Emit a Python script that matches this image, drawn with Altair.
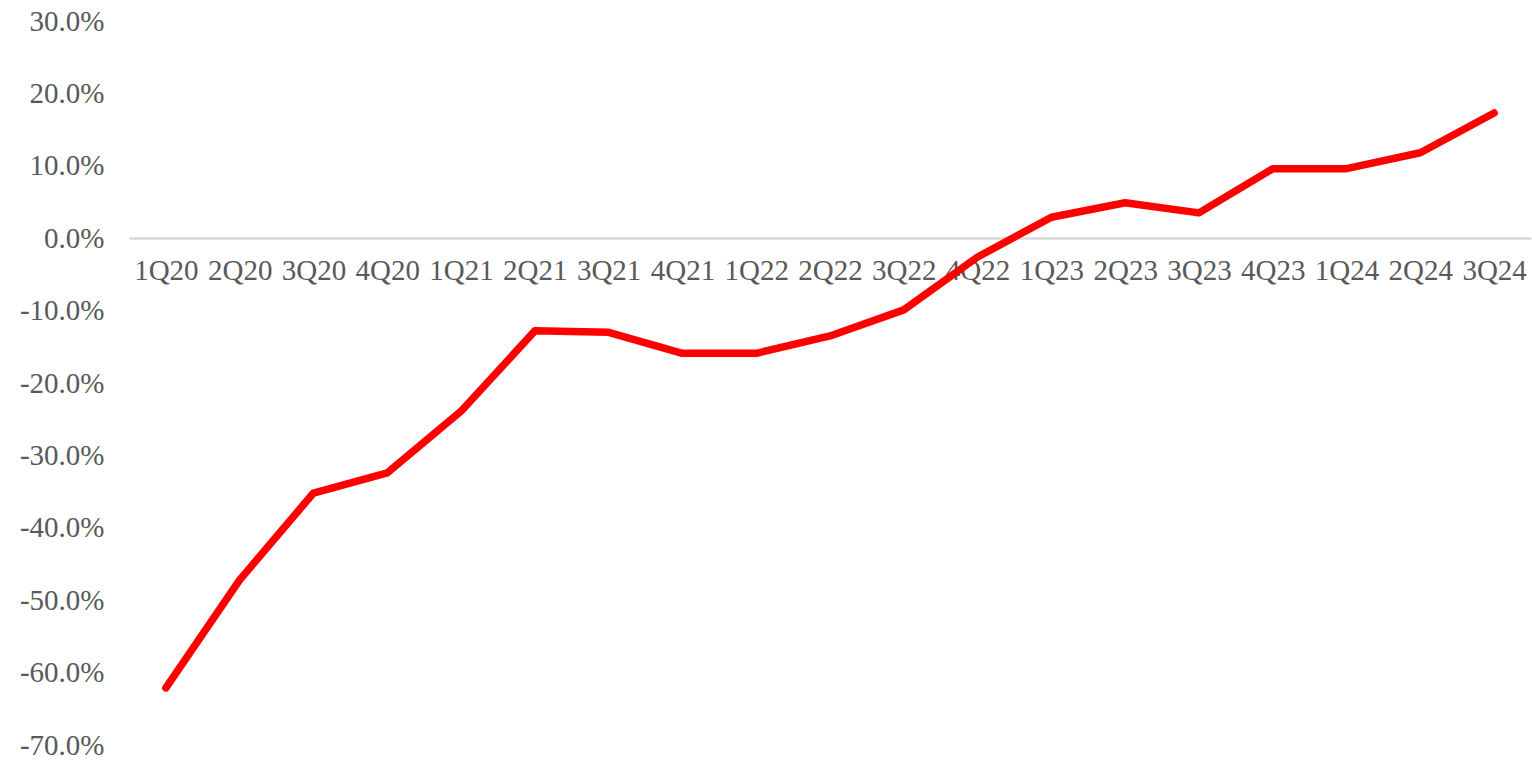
import altair as alt
import pandas as pd

quarters = ["1Q20", "2Q20", "3Q20", "4Q20", "1Q21", "2Q21", "3Q21", "4Q21",
            "1Q22", "2Q22", "3Q22", "4Q22", "1Q23", "2Q23", "3Q23", "4Q23",
            "1Q24", "2Q24", "3Q24"]
values = [-62.1, -47.2, -35.2, -32.4, -23.9, -12.8, -13.0, -15.9,
          -15.9, -13.5, -9.9, -2.6, 2.9, 4.9, 3.5, 9.6,
          9.6, 11.8, 17.3]
y_ticks = [30, 20, 10, 0, -10, -20, -30, -40, -50, -60, -70]

df = pd.DataFrame({"q": quarters, "v": [v / 100 for v in values]})

W, H = 1402, 724
FONT = "Liberation Serif"
TXT = "#595959"
FS = 29

line = alt.Chart(df).mark_line(
    color="#ff0000", strokeWidth=7.5, strokeCap="round", strokeJoin="round"
).encode(
    x=alt.X("q:N", sort=quarters,
            scale=alt.Scale(type="point", padding=0.5),
            axis=alt.Axis(title=None, orient="bottom", offset=-507,
                          domainColor="#d9d9d9", domainWidth=2.5,
                          ticks=False, labelAngle=0, labelPadding=18,
                          labelFont=FONT, labelFontSize=FS, labelColor=TXT,
                          labelOverlap=False, grid=False)),
    y=alt.Y("v:Q",
            scale=alt.Scale(domain=[-0.7, 0.3], nice=False),
            axis=alt.Axis(title=None, values=[t / 100 for t in y_ticks],
                          labelExpr="(datum.value < -0.0001 ? '-' : '') + format(abs(datum.value), '.1%')",
                          domain=False, ticks=False, grid=False,
                          labelPadding=25, labelFont=FONT, labelFontSize=FS,
                          labelColor=TXT)),
)

chart = line.properties(
    width=W, height=H,
    background="white",
    autosize=alt.AutoSizeParams(type="none"),
    padding={"left": 129, "top": 21, "right": 1, "bottom": 17},
).configure_view(strokeWidth=0, stroke=None)

chart.save("out.html", embed_options={"renderer": "svg", "actions": False})
